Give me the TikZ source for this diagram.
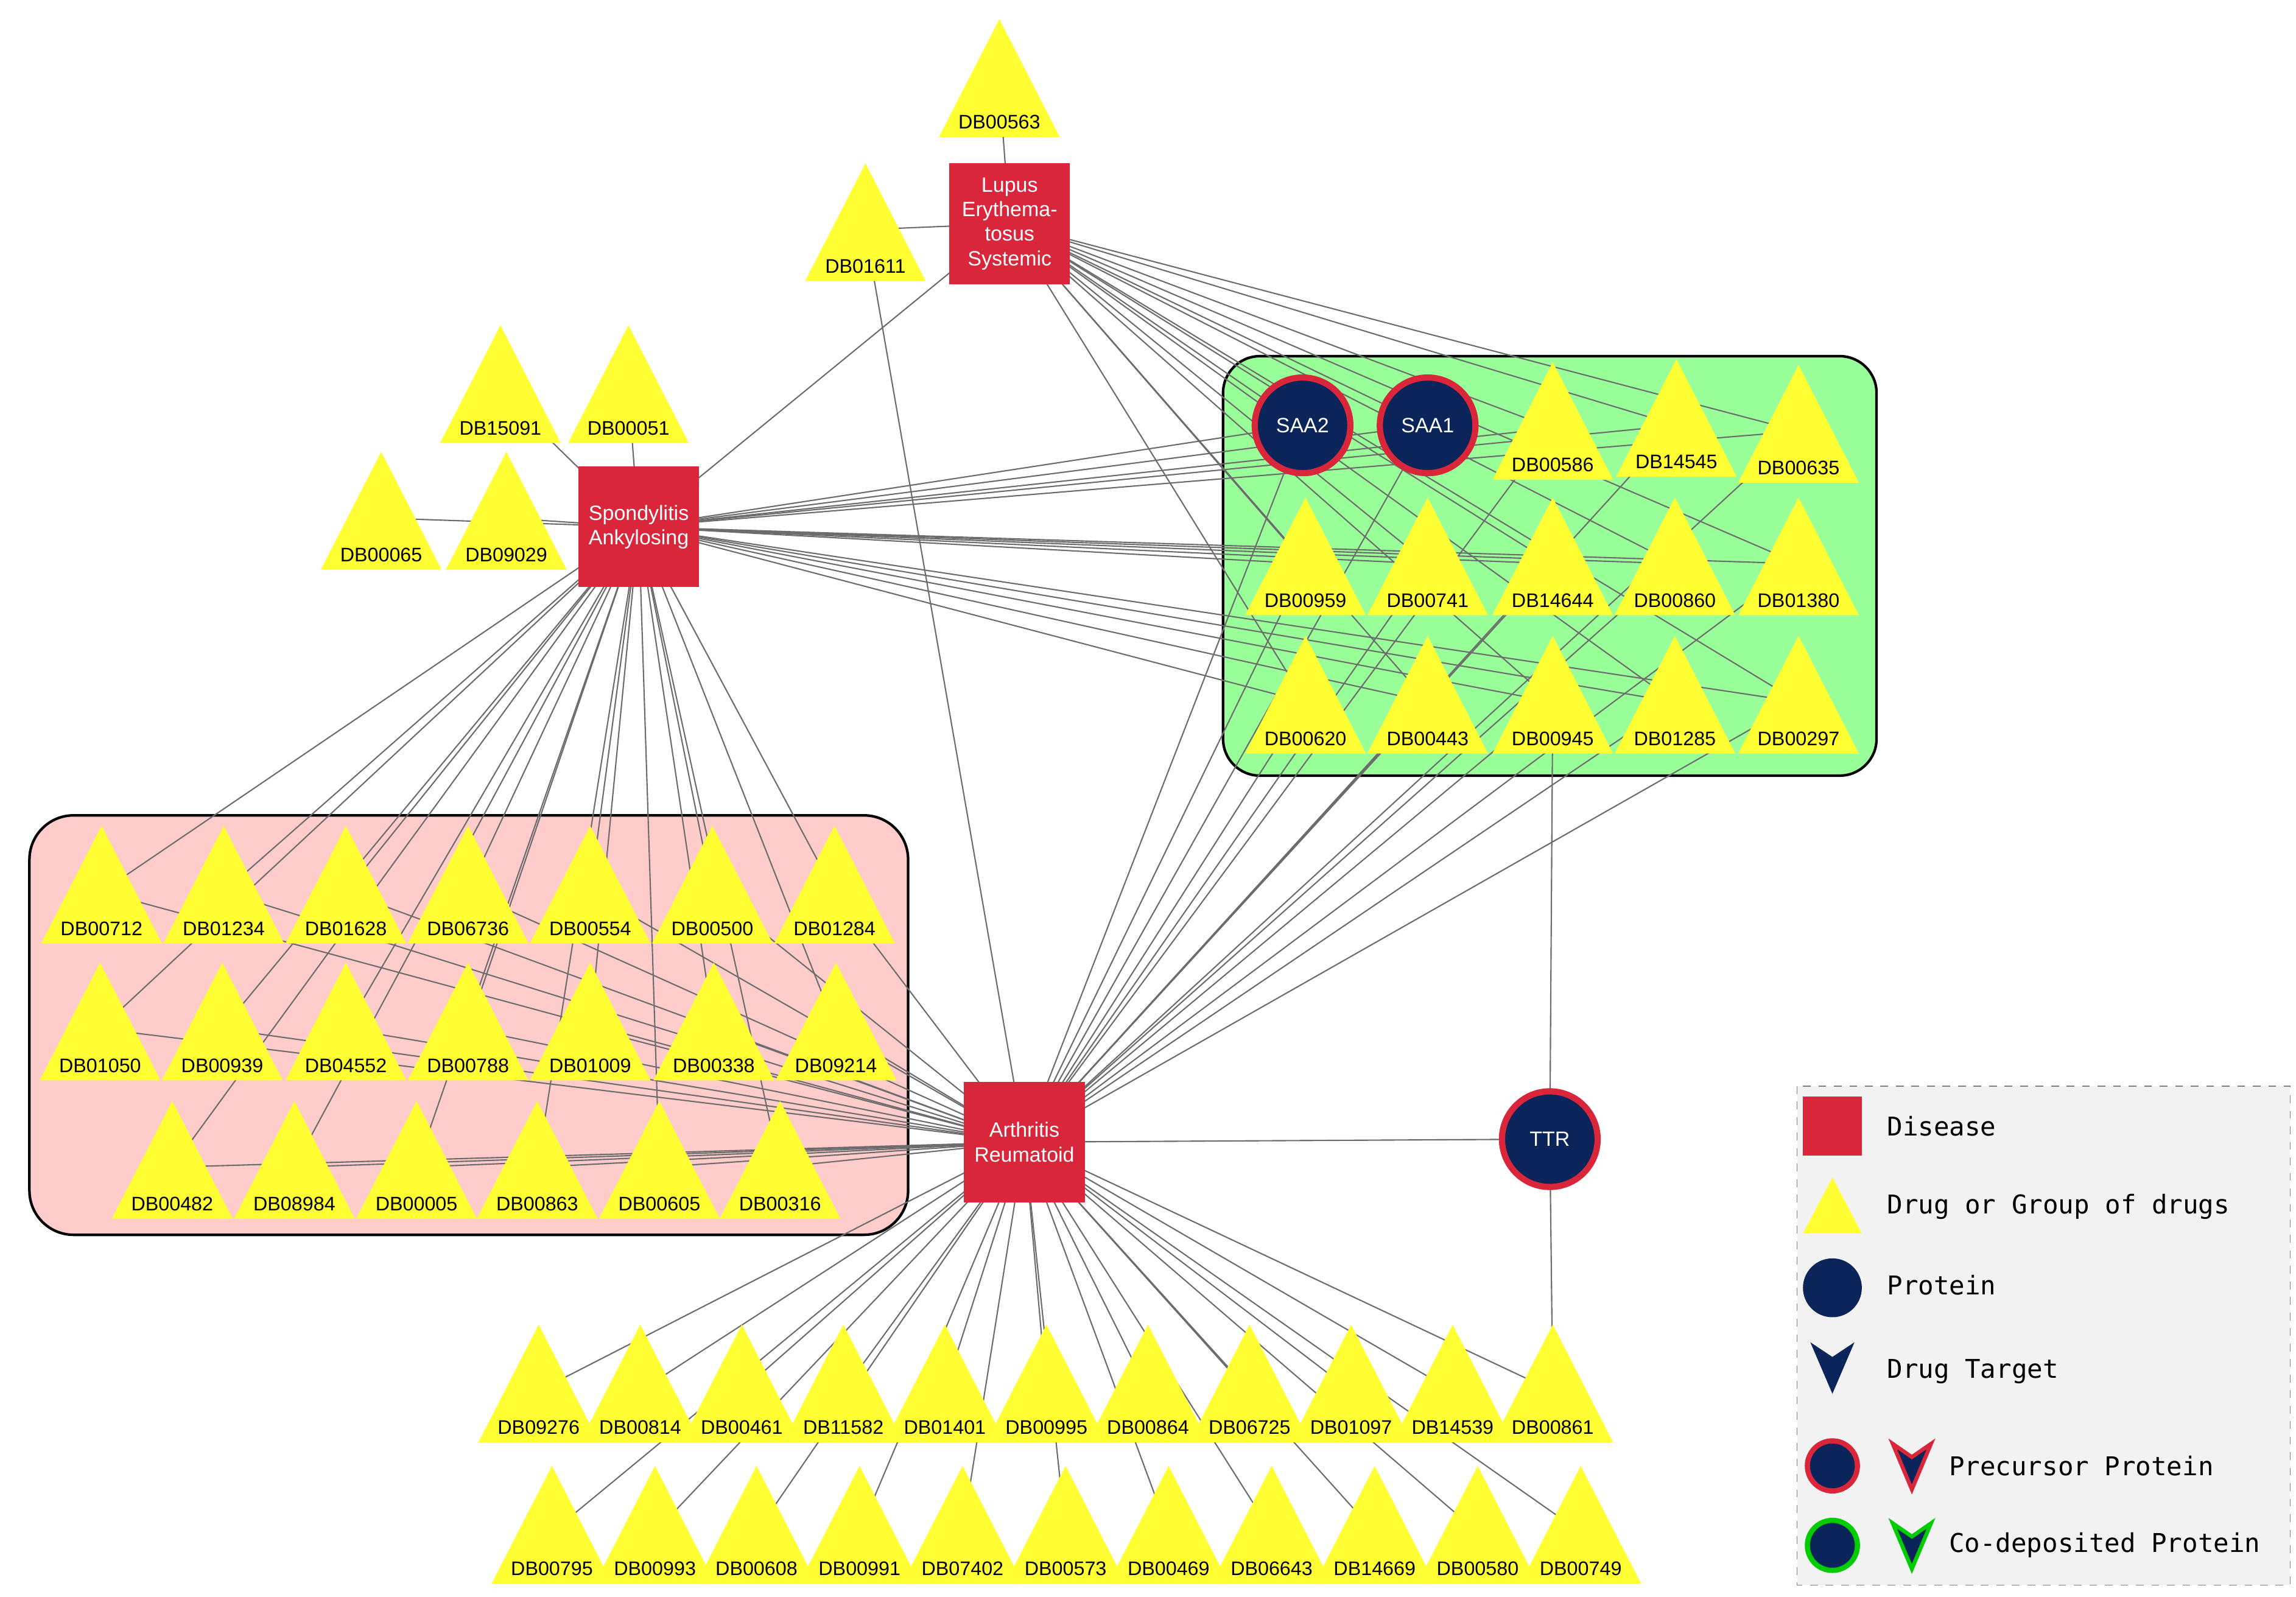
\documentclass[tikz,border=0pt]{standalone}
\usepackage{fontspec}
\setmainfont{Liberation Sans}
\newfontfamily\legfont{DejaVu Sans Mono}
\usetikzlibrary{calc}
\definecolor{dred}{HTML}{D9263A}
\definecolor{navy}{HTML}{0B2459}
\definecolor{dyel}{HTML}{FFFF33}
\definecolor{gbox}{HTML}{99FF99}
\definecolor{pbox}{HTML}{FFCCCC}
\begin{document}
\begin{tikzpicture}[x=0.02cm,y=-0.02cm,
 edge/.style={draw=gray!85!black,line width=0.5pt},
 dis/.style={fill=dred,minimum size=1.64cm,inner sep=0pt,text=white,align=center,font=\fontsize{8}{9.5}\selectfont},
 prot/.style={circle,fill=navy,draw=dred,line width=2.4pt,minimum size=1.3cm,inner sep=0pt,text=white,font=\fontsize{8}{9}\selectfont},
 lbl/.style={font=\fontsize{7.6}{9}\selectfont,inner sep=0pt},
 leg/.style={font=\legfont\fontsize{10}{12}\selectfont,anchor=west}]
\useasboundingbox (0,0) rectangle (1560,1085);
\def\toplist{DB00563/679/83,DB01611/588/181,DB15091/340/291,DB00051/427/291,DB00065/259/377,DB09029/344/377}
\def\greenlist{DB00586/1055/316,DB14545/1139/314,DB00635/1222/318,DB00959/887/408,DB00741/970/408,DB14644/1055/408,DB00860/1138/408,DB01380/1222/408,DB00620/887/502,DB00443/970/502,DB00945/1055/502,DB01285/1138/502,DB00297/1222/502}
\def\pinklist{DB00712/69/631,DB01234/152/631,DB01628/235/631,DB06736/318/631,DB00554/401/631,DB00500/484/631,DB01284/567/631,DB01050/68/724,DB00939/151/724,DB04552/235/724,DB00788/318/724,DB01009/401/724,DB00338/485/724,DB09214/568/724,DB00482/117/818,DB08984/200/818,DB00005/283/818,DB00863/365/818,DB00605/448/818,DB00316/530/818}
\def\bottomlist{DB09276/366/970,DB00814/435/970,DB00461/504/970,DB11582/573/970,DB01401/642/970,DB00995/711/970,DB00864/780/970,DB06725/849/970,DB01097/918/970,DB14539/987/970,DB00861/1055/970,DB00795/375/1066,DB00993/445/1066,DB00608/514/1066,DB00991/584/1066,DB07402/654/1066,DB00573/724/1066,DB00469/794/1066,DB06643/864/1066,DB14669/934/1066,DB00580/1004/1066,DB00749/1074/1066}
% boxes
\filldraw[fill=gbox,draw=black,line width=1pt,rounded corners=0.5cm] (831,242) rectangle (1275,527);
\filldraw[fill=pbox,draw=black,line width=1pt,rounded corners=0.6cm] (20,554) rectangle (617,839);
% coordinates
\foreach \n/\x/\y in \toplist {\coordinate (\n) at (\x,\y-25);}
\foreach \n/\x/\y in \greenlist {\coordinate (\n) at (\x,\y-25);}
\foreach \n/\x/\y in \pinklist {\coordinate (\n) at (\x,\y-25);}
\foreach \n/\x/\y in \bottomlist {\coordinate (\n) at (\x,\y-25);}
\coordinate (L) at (686,152);
\coordinate (S) at (434,358);
\coordinate (A) at (696,776);
\coordinate (SAA2) at (885,289);
\coordinate (SAA1) at (970,289);
\coordinate (T) at (1053,774);
% edges
\draw[edge] (L)--(DB00563) (L)--(DB01611) (L)--(S) (DB01611)--(A) (A)--(T) (T)--(DB00945) (T)--(DB00861);
\foreach \t in {DB15091,DB00051,DB00065,DB09029} \draw[edge] (S)--(\t);
\foreach \t in {SAA2,SAA1} {\draw[edge] (L)--(\t); \draw[edge] (S)--(\t); \draw[edge] (A)--(\t);}
\foreach \n/\x/\y in \greenlist {\draw[edge] (L)--(\n); \draw[edge] (S)--(\n); \draw[edge] (A)--(\n);}
\foreach \n/\x/\y in \pinklist {\draw[edge] (S)--(\n); \draw[edge] (A)--(\n);}
\foreach \n/\x/\y in \bottomlist {\draw[edge] (A)--(\n);}
% triangles
\tikzset{drugtri/.code args={#1/#2/#3}{}}
\newcommand\drawdrugs[1]{\foreach \n/\x/\y in #1 {
 \fill[dyel] (\x-41,\y+10)--(\x+41,\y+10)--(\x,\y-70)--cycle;
 \node[lbl] (t\n) at (\x,\y) {\n};}}
\drawdrugs{\toplist}
\drawdrugs{\greenlist}
\drawdrugs{\pinklist}
\drawdrugs{\bottomlist}
% diseases and proteins
\node[dis] (Ln) at (L) {Lupus\\Erythema-\\tosus\\Systemic};
\node[dis] (Sn) at (S) {Spondylitis\\Ankylosing};
\node[dis] (An) at (A) {Arthritis\\Reumatoid};
\node[prot] (SAA2n) at (SAA2) {SAA2};
\node[prot] (SAA1n) at (SAA1) {SAA1};
\node[prot] (Tn) at (T) {TTR};
% legend
\filldraw[fill=gray!10,draw=gray,dashed] (1221,738) rectangle (1556,1077);
\fill[dred] (1225,745) rectangle (1265,785);
\fill[dyel] (1225,838)--(1265,838)--(1245,800)--cycle;
\fill[navy] (1245,875) circle (20);
\fill[navy] (1230,912)--(1245,947)--(1260,912)--(1245,922)--cycle;
\filldraw[fill=navy,draw=dred,line width=2pt] (1245,996) circle (17);
\filldraw[fill=navy,draw=dred,line width=1.5pt] (1286,981)--(1299,1012)--(1312,981)--(1299,990)--cycle;
\filldraw[fill=navy,draw=green!80!black,line width=2pt] (1245,1050) circle (17);
\filldraw[fill=navy,draw=green!80!black,line width=1.5pt] (1286,1035)--(1299,1066)--(1312,1035)--(1299,1044)--cycle;
\node[leg] (l1) at (1276,765) {Disease};
\node[leg] (l2) at (1276,820) {Drug or Group of drugs};
\node[leg] (l3) at (1276,873) {Protein};
\node[leg] (l4) at (1276,932) {Drug Target};
\node[leg] (l5) at (1318,996) {Precursor Protein};
\node[leg] (l6) at (1318,1050) {Co-deposited Protein};
\end{tikzpicture}
\end{document}
